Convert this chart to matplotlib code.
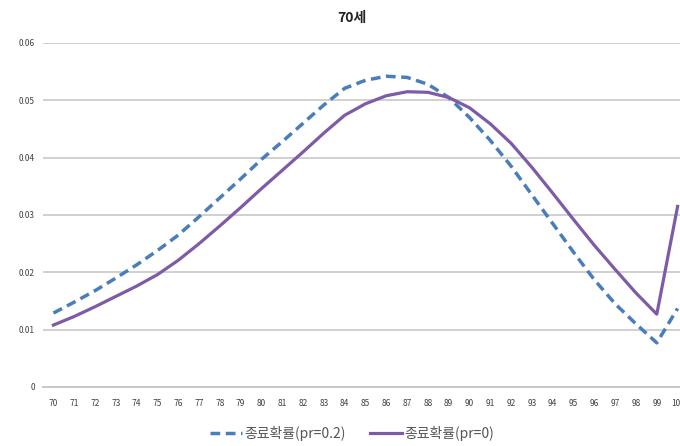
import matplotlib
matplotlib.use("Agg")
import matplotlib.pyplot as plt
from matplotlib.lines import Line2D

plt.rcParams['font.family'] = ['Noto Sans CJK KR', 'DejaVu Sans']

ages = list(range(70, 101))
age_labels = [str(a) for a in ages]

prob_pr02 = [0.0129, 0.0148, 0.0168, 0.0190, 0.0213, 0.0238, 0.0265, 0.0297,
             0.0330, 0.0363, 0.0397, 0.0428, 0.0460, 0.0492, 0.0521, 0.0535,
             0.0542, 0.0540, 0.0528, 0.0505, 0.0470, 0.0430, 0.0385, 0.0335,
             0.0285, 0.0235, 0.0187, 0.0145, 0.0110, 0.0077, 0.0137]
prob_pr0 = [0.0108, 0.0123, 0.0140, 0.0158, 0.0176, 0.0196, 0.0221, 0.0250,
            0.0281, 0.0313, 0.0346, 0.0378, 0.0410, 0.0443, 0.0474, 0.0494,
            0.0508, 0.0515, 0.0514, 0.0505, 0.0487, 0.0459, 0.0425, 0.0383,
            0.0338, 0.0292, 0.0247, 0.0205, 0.0164, 0.0127, 0.0315]

y_ticks = [0, 0.01, 0.02, 0.03, 0.04, 0.05, 0.06]
y_tick_labels = ['0', '0.01', '0.02', '0.03', '0.04', '0.05', '0.06']

title = '70세'
label_pr02 = '종료확률(pr=0.2)'
label_pr0 = '종료확률(pr=0)'

blue = '#4a7ebb'
purple = '#7d5ba6'
dash = (0, (2.8, 1.6))

fig = plt.figure(figsize=(6.8, 4.46), dpi=100)
ax = fig.add_axes([43 / 680, 1 - 387 / 446, 645 / 680, (387 - 43) / 446])

ax.plot(ages, prob_pr02, color=blue, lw=2.5, ls=dash, solid_capstyle='butt')
ax.plot(ages, prob_pr0, color=purple, lw=2.3)

ax.set_xlim(69.5, 100.5)
ax.set_ylim(0, 0.06)
ax.set_yticks(y_ticks)
ax.set_yticklabels(y_tick_labels)
ax.set_xticks(ages)
ax.set_xticklabels(age_labels)
ax.tick_params(axis='both', length=0, labelsize=6, colors='#404040')
ax.tick_params(axis='x', pad=9)
ax.tick_params(axis='y', pad=6)

ax.grid(axis='y', color='#d0d0d0', lw=1.4)
ax.set_axisbelow(True)
for s in ['top', 'right', 'left']:
    ax.spines[s].set_visible(False)
ax.spines['bottom'].set_color('#c8c8c8')
ax.spines['bottom'].set_linewidth(1.4)

fig.text(352 / 680, 1 - 18 / 446, title, ha='center', va='center',
         fontsize=10, fontweight='bold', color='#222222')

handles = [Line2D([], [], color=blue, lw=2.5, ls=dash),
           Line2D([], [], color=purple, lw=2.3)]
fig.legend(handles, [label_pr02, label_pr0], loc='center',
           bbox_to_anchor=(352 / 680, 1 - 433 / 446), ncol=2, frameon=False,
           fontsize=10, handlelength=2.3, handletextpad=0.15, columnspacing=1.8,
           labelcolor='#555555')

fig.savefig('out.png', dpi=100)
